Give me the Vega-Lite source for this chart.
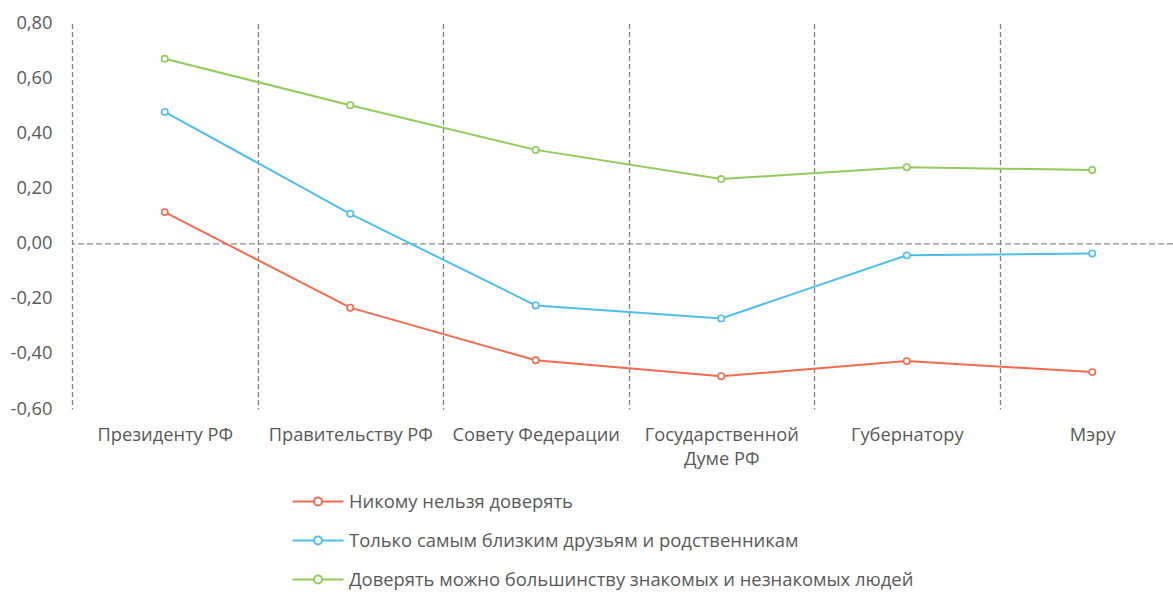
{
  "$schema": "https://vega.github.io/schema/vega-lite/v6.json",
  "width": 1101,
  "height": 385.5,
  "autosize": {"type": "none"},
  "padding": {"left": 72, "top": 23.5, "right": 0, "bottom": 183},
  "background": "white",
  "config": {
    "view": {"stroke": null},
    "font": "Open Sans",
    "axis": {"labelColor": "#595959", "labelFontSize": 18.3, "labelFont": "Open Sans"},
    "legend": {"labelFont": "Open Sans"}
  },
  "data": {
    "values": [
      {"cat": "Президенту РФ", "series": "Никому нельзя доверять", "value": 0.115},
      {"cat": "Правительству РФ", "series": "Никому нельзя доверять", "value": -0.232},
      {"cat": "Совету Федерации", "series": "Никому нельзя доверять", "value": -0.423},
      {"cat": "Государственной Думе РФ", "series": "Никому нельзя доверять", "value": -0.481},
      {"cat": "Губернатору", "series": "Никому нельзя доверять", "value": -0.426},
      {"cat": "Мэру", "series": "Никому нельзя доверять", "value": -0.466},
      {"cat": "Президенту РФ", "series": "Только самым близким друзьям и родственникам", "value": 0.479},
      {"cat": "Правительству РФ", "series": "Только самым близким друзьям и родственникам", "value": 0.109},
      {"cat": "Совету Федерации", "series": "Только самым близким друзьям и родственникам", "value": -0.224},
      {"cat": "Государственной Думе РФ", "series": "Только самым близким друзьям и родственникам", "value": -0.271},
      {"cat": "Губернатору", "series": "Только самым близким друзьям и родственникам", "value": -0.042},
      {"cat": "Мэру", "series": "Только самым близким друзьям и родственникам", "value": -0.035},
      {"cat": "Президенту РФ", "series": "Доверять можно большинству знакомых и незнакомых людей", "value": 0.672},
      {"cat": "Правительству РФ", "series": "Доверять можно большинству знакомых и незнакомых людей", "value": 0.503},
      {"cat": "Совету Федерации", "series": "Доверять можно большинству знакомых и незнакомых людей", "value": 0.341},
      {"cat": "Государственной Думе РФ", "series": "Доверять можно большинству знакомых и незнакомых людей", "value": 0.235},
      {"cat": "Губернатору", "series": "Доверять можно большинству знакомых и незнакомых людей", "value": 0.278},
      {"cat": "Мэру", "series": "Доверять можно большинству знакомых и незнакомых людей", "value": 0.268}
    ]
  },
  "layer": [
    {
      "data": {"values": [{"zero": 0}]},
      "mark": {"type": "rule", "stroke": "#8c8c8c", "strokeDash": [6, 3], "strokeWidth": 1.3},
      "encoding": {"y": {"field": "zero", "type": "quantitative"}}
    },
    {
      "mark": {"type": "line", "strokeWidth": 2},
      "encoding": {
        "x": {
          "field": "cat", "type": "nominal", "sort": null,
          "scale": {"range": [0, 1113], "paddingInner": 0, "paddingOuter": 0},
          "axis": {
            "title": null, "domain": false, "ticks": false, "grid": true, "tickBand": "extent",
            "gridDash": [5, 3], "gridColor": "#7f7f7f", "gridWidth": 1.3,
            "labelPadding": 17, "labelAngle": 0, "labelLineHeight": 24, "labelLimit": 0, "labelOverlap": false,
            "labelExpr": "datum.value == 'Государственной Думе РФ' ? ['Государственной', 'Думе РФ'] : datum.value"
          }
        },
        "y": {
          "field": "value", "type": "quantitative",
          "scale": {"domain": [-0.6, 0.8], "nice": false, "zero": false},
          "axis": {
            "title": null, "domain": false, "ticks": false, "grid": false,
            "values": [-0.6, -0.4, -0.2, 0, 0.2, 0.4, 0.6, 0.8],
            "labelPadding": 20,
            "labelExpr": "replace(replace(format(datum.value, '.2f'), '.', ','), '\u2212', '-')"
          }
        },
        "color": {
          "field": "series", "type": "nominal",
          "scale": {
            "domain": ["Никому нельзя доверять", "Только самым близким друзьям и родственникам", "Доверять можно большинству знакомых и незнакомых людей"],
            "range": ["#F26B4F", "#4DBFEA", "#92CB58"]
          },
          "legend": {
            "orient": "none", "legendX": 235, "legendY": 467, "title": null, "direction": "vertical",
            "symbolType": "M-2.55,0L-0.4,0M0.4,0L2.55,0M0.4,0A0.4,0.4,0,1,1,-0.4,0A0.4,0.4,0,1,1,0.4,0Z",
            "symbolSize": 400, "symbolStrokeWidth": 2, "symbolFillColor": "white",
            "labelFontSize": 18.4, "labelColor": "#595959", "labelOffset": 20, "rowPadding": 18, "padding": 0, "labelLimit": 0,
            "encode": {"symbols": {"update": {"fill": {"value": "white"}, "opacity": {"value": 1}, "strokeWidth": {"value": 2}}}}
          }
        }
      }
    },
    {
      "mark": {"type": "point", "shape": "circle", "filled": false, "fill": "white", "size": 40, "strokeWidth": 1.6, "opacity": 1},
      "encoding": {
        "x": {"field": "cat", "type": "nominal", "sort": null},
        "y": {"field": "value", "type": "quantitative"},
        "color": {"field": "series", "type": "nominal"}
      }
    }
  ]
}
